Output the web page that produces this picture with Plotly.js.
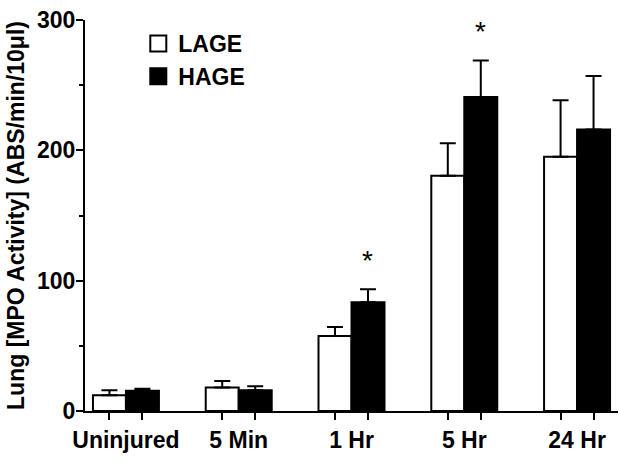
<!DOCTYPE html>
<html>
<head>
<meta charset="utf-8">
<script src="https://cdn.plot.ly/plotly-3.0.1.min.js"></script>
<style>html,body{margin:0;padding:0;background:#fff;}#chart{width:629px;height:467px;}</style>
</head>
<body>
<div id="chart"></div>
<script>
const categories = ['Uninjured', '5 Min', '1 Hr', '5 Hr', '24 Hr'];
const lage = [12, 18, 57.5, 180.5, 195];
const lageErr = [4, 5, 7, 25, 43.5];
const hage = [15.5, 16, 83.5, 241, 216];
const hageErr = [1.5, 3, 10, 28, 41];
const significant = [false, false, true, true, false];
const seriesNames = ['LAGE', 'HAGE'];
const seriesFill = ['#ffffff', '#000000'];
const yTicks = [0, 100, 200, 300];

const FONT = 'Liberation Sans, Arial, Helvetica, sans-serif';
const FS = 23;
const bargap = 0.415;
const off = (1 - bargap) / 4;
const xs = categories.map((c, i) => i);

function errBars(arr) {
  return {type: 'data', symmetric: false, array: arr, arrayminus: arr.map(() => 0),
          color: '#000', thickness: 2, width: 8};
}

const traces = [
  {type: 'bar', name: seriesNames[0], x: xs, y: lage, error_y: errBars(lageErr), showlegend: false,
   marker: {color: seriesFill[0], line: {color: '#000', width: 2}}},
  {type: 'bar', name: seriesNames[1], x: xs, y: hage, error_y: errBars(hageErr), showlegend: false,
   marker: {color: seriesFill[1], line: {color: '#000', width: 2}}},
  // legend-only swatches (no data points)
  {type: 'scatter', mode: 'markers', name: seriesNames[0], x: [null], y: [null],
   marker: {symbol: 'square', size: 16, color: seriesFill[0], line: {color: '#000', width: 2}}},
  {type: 'scatter', mode: 'markers', name: seriesNames[1], x: [null], y: [null],
   marker: {symbol: 'square', size: 16, color: seriesFill[1], line: {color: '#000', width: 2}}}
];

const minorVals = [];
xs.forEach(i => { minorVals.push(i - off, i + off); });

const annotations = [];
xs.forEach(i => {
  if (significant[i]) {
    annotations.push({x: i + off, y: hage[i] + hageErr[i], xref: 'x', yref: 'y',
      text: '*', showarrow: false, yanchor: 'bottom', yshift: 11,
      font: {family: FONT, size: 28, color: '#000'}});
  }
});

const layout = {
  width: 629, height: 467,
  margin: {l: 85, r: 11, t: 20, b: 56},
  paper_bgcolor: '#fff', plot_bgcolor: '#fff',
  barmode: 'group', bargap: bargap, bargroupgap: 0,
  showlegend: true,
  legend: {x: 0.1, y: 0.995, xanchor: 'left', yanchor: 'top', bgcolor: 'rgba(0,0,0,0)',
           itemsizing: 'trace', tracegroupgap: 0,
           font: {family: FONT, size: FS, color: '#000', weight: 'bold'}},
  font: {family: FONT, color: '#000'},
  xaxis: {
    type: 'linear', range: [-0.363, 4.363], tickmode: 'array', tickvals: xs, ticktext: categories,
    ticks: 'outside', ticklen: 7, tickcolor: 'rgba(0,0,0,0)', tickwidth: 2,
    minor: {tickmode: 'array', tickvals: minorVals, ticks: 'outside', ticklen: 7, tickwidth: 2, tickcolor: '#000', showgrid: false},
    showline: true, linecolor: '#000', linewidth: 2, showgrid: false, zeroline: false,
    tickfont: {family: FONT, size: FS, color: '#000', weight: 'bold'}, fixedrange: true
  },
  yaxis: {
    range: [0, 300], tickmode: 'array', tickvals: yTicks,
    ticks: 'outside', ticklen: 7, tickwidth: 2, tickcolor: '#000', ticklabelstandoff: -4,
    minor: {dtick: 50, ticks: 'outside', ticklen: 4, tickwidth: 2, tickcolor: '#000', showgrid: false},
    showline: true, linecolor: '#000', linewidth: 2, showgrid: false, zeroline: false,
    tickfont: {family: FONT, size: FS, color: '#000', weight: 'bold'},
    title: {text: 'Lung [MPO Activity] (ABS/min/10μl)', standoff: 6,
            font: {family: FONT, size: FS, color: '#000', weight: 'bold'}},
    fixedrange: true
  },
  annotations: annotations
};

Plotly.newPlot('chart', traces, layout, {staticPlot: true, displayModeBar: false});
</script>
</body>
</html>
